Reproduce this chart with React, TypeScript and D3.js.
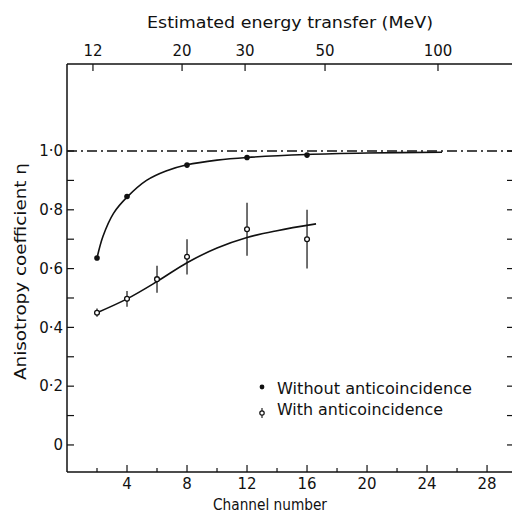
import * as d3 from 'd3';
import React from 'react';

const chanWithout = [2, 4, 8, 12, 16];
const etaWithout = [0.636, 0.845, 0.952, 0.978, 0.986];

const chanWith = [2, 4, 6, 8, 12, 16];
const etaWith = [0.45, 0.497, 0.564, 0.64, 0.734, 0.70];
const errWith = [0.014, 0.027, 0.046, 0.06, 0.09, 0.10];

// hand drawn smooth curves through the points
const fitWithoutCh = [2, 2.4, 3.1, 4, 5.3, 6.6, 8, 10, 12, 16, 20, 25];
const fitWithoutEta = [0.636, 0.71, 0.788, 0.843, 0.9, 0.932, 0.953, 0.969, 0.978, 0.988, 0.993, 0.996];
const fitWithCh = [2, 4, 6, 8, 10, 12, 14, 16.6];
const fitWithEta = [0.45, 0.497, 0.556, 0.62, 0.67, 0.706, 0.729, 0.752];

// top axis: energy labels and the channel they sit over
const energyLabels = ['12', '20', '30', '50', '100'];
const energyAtChannel = [1.73, 7.67, 11.87, 17.2, 24.73];

const xMajor = [4, 8, 12, 16, 20, 24, 28];
const xMinor = [2, 6, 10, 14, 18, 22, 26];
const yMajor = [0, 0.2, 0.4, 0.6, 0.8, 1.0];
const yMinor = [0.1, 0.3, 0.5, 0.7, 0.9];

const font = '"DejaVu Sans", sans-serif';

const App = () => {
  const width = 512, height = 521;
  const x = d3.scaleLinear().domain([0, 29.73]).range([67, 513]);
  const y = d3.scaleLinear().domain([-0.092, 1.296]).range([472, 64]);
  const [x0, x1] = x.range();
  const [yb, yt] = y.range();

  const line = d3.line<[number, number]>()
    .x(d => x(d[0]))
    .y(d => y(d[1]))
    .curve(d3.curveCatmullRom.alpha(0.5));

  const fmt = (v: number) => v === 0 ? '0' : v.toFixed(1).replace('.', '·');

  return (
    <svg width={width} height={height} style={{ position: 'absolute', left: 0, top: 0, background: '#fff' }}
      fontFamily={font} fill="#111">
      {/* frame */}
      <g stroke="#111" strokeWidth={1.5} fill="none">
        <line x1={x0} x2={x1} y1={yb} y2={yb} />
        <line x1={x0} x2={x1} y1={yt} y2={yt} />
        <line x1={x0} x2={x0} y1={yt} y2={yb} />
        <line x1={x1} x2={x1} y1={yt} y2={yb} />
      </g>

      {/* bottom axis */}
      <g stroke="#111" strokeWidth={1.2}>
        {xMajor.map(v => <line key={'xm' + v} x1={x(v)} x2={x(v)} y1={yb} y2={yb - 7} />)}
        {xMinor.map(v => <line key={'xn' + v} x1={x(v)} x2={x(v)} y1={yb} y2={yb - 4} />)}
      </g>
      <g fontSize={15} textAnchor="middle">
        {xMajor.map(v => <text key={'xl' + v} x={x(v)} y={489}>{v}</text>)}
      </g>
      <text x={270} y={510} fontSize={15} textAnchor="middle" textLength={114} lengthAdjust="spacingAndGlyphs">Channel number</text>

      {/* top axis */}
      <g stroke="#111" strokeWidth={1.2}>
        {energyAtChannel.map((c, i) => <line key={'tt' + i} x1={x(c)} x2={x(c)} y1={yt} y2={yt + 7} />)}
      </g>
      <g fontSize={15} textAnchor="middle">
        {energyAtChannel.map((c, i) => <text key={'tl' + i} x={x(c)} y={56}>{energyLabels[i]}</text>)}
      </g>
      <text x={290} y={28} fontSize={16} textAnchor="middle" textLength={286} lengthAdjust="spacingAndGlyphs">Estimated energy transfer (MeV)</text>

      {/* left and right axes */}
      <g stroke="#111" strokeWidth={1.2}>
        {yMajor.concat(yMinor).map(v => <line key={'yl' + v} x1={x0} x2={x0 + 7} y1={y(v)} y2={y(v)} />)}
        {yMajor.concat(yMinor).map(v => <line key={'yr' + v} x1={x1} x2={x1 - 6} y1={y(v)} y2={y(v)} />)}
      </g>
      <g fontSize={15} textAnchor="end">
        {yMajor.map(v => <text key={'ylab' + v} x={63} y={y(v)} dy="0.35em">{fmt(v)}</text>)}
      </g>
      <text transform={`translate(26,271.5) rotate(-90)`} fontSize={15} textAnchor="middle" textLength={217} lengthAdjust="spacingAndGlyphs">Anisotropy coefficient η</text>

      {/* eta = 1 reference */}
      <line x1={x0} x2={x1} y1={y(1)} y2={y(1)} stroke="#111" strokeWidth={1.5} strokeDasharray="10,4,2,4" />

      {/* fitted curves */}
      <path d={line(fitWithoutCh.map((c, i) => [c, fitWithoutEta[i]]) as any) || ''} fill="none" stroke="#111" strokeWidth={1.6} />
      <path d={line(fitWithCh.map((c, i) => [c, fitWithEta[i]]) as any) || ''} fill="none" stroke="#111" strokeWidth={1.6} />

      {/* error bars and open points */}
      <g stroke="#111" strokeWidth={1.2}>
        {chanWith.map((c, i) => (
          <line key={'eb' + i} x1={x(c)} x2={x(c)} y1={y(etaWith[i] - errWith[i])} y2={y(etaWith[i] + errWith[i])} />
        ))}
      </g>
      {chanWith.map((c, i) => (
        <circle key={'ow' + i} cx={x(c)} cy={y(etaWith[i])} r={2.4} fill="#fff" stroke="#111" strokeWidth={1.3} />
      ))}
      {chanWithout.map((c, i) => (
        <circle key={'fw' + i} cx={x(c)} cy={y(etaWithout[i])} r={2.8} fill="#111" />
      ))}

      {/* legend */}
      <circle cx={262} cy={387} r={2.4} fill="#111" />
      <text x={277} y={394} fontSize={16} textLength={195} lengthAdjust="spacingAndGlyphs">Without anticoincidence</text>
      <line x1={262} x2={262} y1={408} y2={418} stroke="#111" strokeWidth={1.1} />
      <circle cx={262} cy={413} r={2.2} fill="#fff" stroke="#111" strokeWidth={1.2} />
      <text x={277} y={415} fontSize={16} textLength={166} lengthAdjust="spacingAndGlyphs">With anticoincidence</text>
    </svg>
  );
};

export default App;
